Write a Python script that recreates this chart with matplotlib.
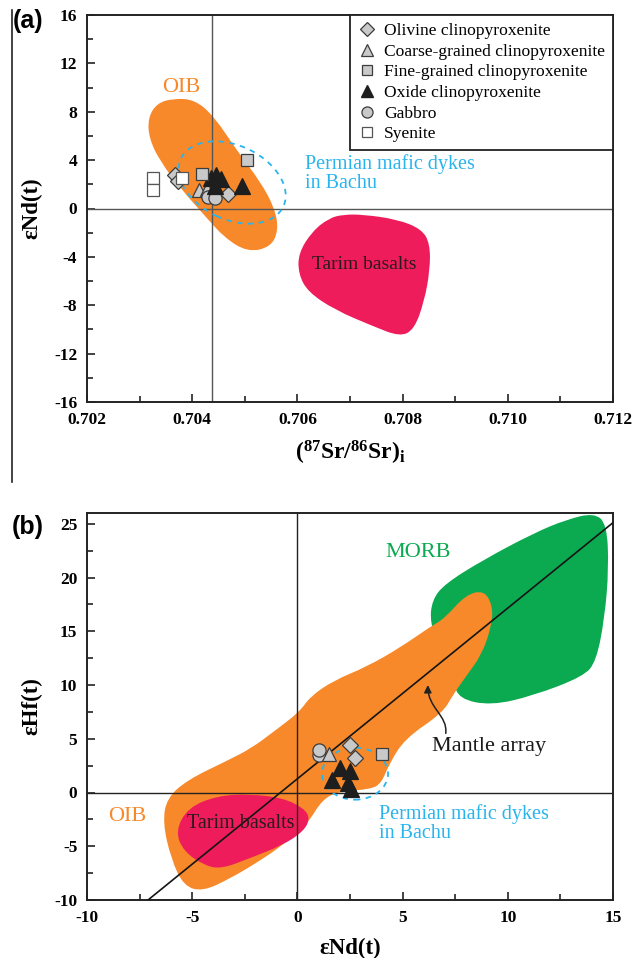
import numpy as np
import matplotlib
matplotlib.use('Agg')
import matplotlib.pyplot as plt
from matplotlib.path import Path
from matplotlib.patches import PathPatch, Ellipse, FancyArrowPatch
from matplotlib.lines import Line2D
from matplotlib.transforms import ScaledTranslation

plt.rcParams['font.family'] = ['Liberation Serif', 'DejaVu Serif']
plt.rcParams['mathtext.fontset'] = 'custom'
plt.rcParams['mathtext.rm'] = 'Liberation Serif'
plt.rcParams['mathtext.bf'] = 'Liberation Serif:bold'
plt.rcParams['axes.unicode_minus'] = False

#####
# Data - panel (a): Sr-Nd
#####
oliv_a_sr = [0.70367, 0.70373, 0.70469]
oliv_a_nd = [2.8, 2.3, 1.2]
coarse_a_sr = [0.70412, 0.70428]
coarse_a_nd = [1.55, 1.65]
fine_a_sr = [0.70418, 0.70505]
fine_a_nd = [2.87, 3.98]
oxide_a_sr = [0.70435, 0.70445, 0.70455, 0.70443, 0.70494]
oxide_a_nd = [2.55, 2.75, 2.45, 1.9, 1.9]
gabbro_a_sr = [0.70430, 0.70443]
gabbro_a_nd = [0.95, 0.9]
syen_a_sr = [0.70326, 0.70326, 0.70381]
syen_a_nd = [2.5, 1.5, 2.55]

oib_a_sr = [0.70364, 0.70405, 0.70442, 0.70488, 0.70530, 0.70557, 0.70564,
            0.70549, 0.70505, 0.70461, 0.70424, 0.70379, 0.70339, 0.70318,
            0.70316, 0.70333]
oib_a_nd = [9.1, 9.0, 7.6, 4.6, 2.2, 0.0, -1.8, -3.2, -3.6, -2.4, -0.6,
            1.6, 3.9, 5.8, 7.5, 8.7]
tarim_a_sr = [0.70687, 0.70725, 0.70790, 0.70836, 0.70852, 0.70852, 0.70841,
              0.70822, 0.70795, 0.70742, 0.70672, 0.70620, 0.70602, 0.70602,
              0.70628, 0.70660]
tarim_a_nd = [-0.5, -0.5, -0.9, -1.7, -2.9, -5.1, -7.7, -10.0, -10.6, -9.7,
              -8.4, -6.9, -5.4, -3.7, -1.9, -0.8]
sr_ref = 0.70437

#####
# Data - panel (b): Nd-Hf
#####
oliv_b_nd = [2.5, 2.74]
oliv_b_hf = [4.4, 3.2]
coarse_b_nd = [1.52]
coarse_b_hf = [3.6]
fine_b_nd = [4.0]
fine_b_hf = [3.54]
oxide_b_nd = [2.02, 2.5, 1.63, 2.42, 2.53]
oxide_b_hf = [2.24, 2.0, 1.15, 0.84, 0.37]
gabbro_b_nd = [1.04, 1.04]
gabbro_b_hf = [3.5, 3.94]

oib_b_nd = [-6.4, -6.2, -5.2, -3.4, -2.2, -1.1, 0.1, 0.6, 1.7, 3.3, 4.9, 6.3,
            7.0, 8.0, 8.9, 9.3, 9.2, 8.75, 8.05, 7.4, 6.9, 5.1, 4.35, 4.0,
            3.5, 2.0, 1.2, 0.45, -0.7, -1.9, -3.2, -4.5, -5.4, -6.0]
oib_b_hf = [-2.8, -0.5, 1.2, 2.9, 4.1, 5.7, 7.5, 8.9, 10.4, 11.7, 13.5, 15.4,
            16.2, 18.4, 18.8, 17.2, 15.3, 12.8, 10.9, 9.1, 7.4, 5.0, 2.6, 0.9,
            0.3, 0.1, -0.6, -3.0, -4.9, -6.5, -8.0, -9.2, -8.7, -6.2]
tarim_b_nd = [-5.8, -5.2, -3.8, -2.25, -0.7, 0.3, 0.6, 0.3, -0.7, -2.25,
              -3.6, -4.4, -5.4]
tarim_b_hf = [-3.6, -1.4, -0.3, -0.15, -0.5, -1.45, -2.4, -3.6, -4.9, -6.1,
              -7.1, -6.8, -5.5]
morb_b_nd = [6.3, 6.4, 7.0, 8.8, 11.2, 12.8, 14.1, 14.7, 14.8, 14.6, 14.2,
             13.6, 11.2, 9.2, 7.7, 7.4, 6.8]
morb_b_hf = [15.8, 17.9, 19.4, 21.6, 24.1, 25.4, 26.0, 25.0, 20.9, 16.2,
             12.2, 10.8, 9.0, 8.1, 8.7, 10.3, 13.0]
mantle_nd = [-7.1, 15.0]
mantle_hf = [-10.0, 25.1]

legend_labels = ['Olivine clinopyroxenite', 'Coarse-grained clinopyroxenite',
                 'Fine-grained clinopyroxenite', 'Oxide clinopyroxenite',
                 'Gabbro', 'Syenite']

ORANGE = '#F7892A'
RED = '#EE1C5A'
GREEN = '#0BAA50'
BLUE = '#29B4EE'
GRAY = '#C9C9C9'
EDGE = '#3C3C3C'


def smooth_field(ax, xs, ys, color, z=1):
    """closed smooth outline through the midpoints of the given vertices"""
    pts = np.column_stack([xs, ys])
    mids = (pts + np.roll(pts, -1, axis=0)) / 2
    verts = [mids[-1]]
    codes = [Path.MOVETO]
    for i in range(len(pts)):
        verts += [pts[i], mids[i]]
        codes += [Path.CURVE3, Path.CURVE3]
    verts.append(mids[-1])
    codes.append(Path.CLOSEPOLY)
    ax.add_patch(PathPatch(Path(verts, codes), facecolor=color,
                           edgecolor='none', zorder=z))


def style_axes(ax):
    for s in ax.spines.values():
        s.set_linewidth(1.4)
        s.set_color('#222222')
    ax.tick_params(which='both', direction='in', top=False, right=False,
                   width=1.2, pad=7, labelsize=12.5, color='#222222')
    ax.tick_params(which='major', length=6)
    ax.tick_params(which='minor', length=4)
    for lab in ax.get_xticklabels() + ax.get_yticklabels():
        lab.set_fontweight('bold')


def draw_samples(ax, groups):
    for xs, ys, mk, ms, fc, ec in groups:
        ax.plot(xs, ys, linestyle='none', marker=mk, markersize=ms,
                markerfacecolor=fc, markeredgecolor=ec, markeredgewidth=0.9,
                zorder=5)


fig = plt.figure(figsize=(6.34, 9.58), dpi=100)

#####
# Panel (a)
#####
ax1 = fig.add_axes([87 / 634, 1 - 402 / 958, 526 / 634, 387 / 958])
smooth_field(ax1, oib_a_sr, oib_a_nd, ORANGE)
smooth_field(ax1, tarim_a_sr, tarim_a_nd, RED)
ax1.axvline(sr_ref, color='#555555', lw=1.0, zorder=2)
ax1.axhline(0, color='#555555', lw=1.0, zorder=2)

# dashed dyke field, sized in inches so the tilt is not distorted
dyke_a = Ellipse((0, 0), 1.13, 0.74, angle=-25, fill=False, edgecolor=BLUE,
                 linestyle=(0, (3, 3)), lw=1.3, zorder=3,
                 transform=fig.dpi_scale_trans +
                 ScaledTranslation(0.70476, 2.15, ax1.transData))
ax1.add_patch(dyke_a)

draw_samples(ax1, [
    (oliv_a_sr, oliv_a_nd, 'D', 8, GRAY, EDGE),
    (coarse_a_sr, coarse_a_nd, '^', 10, GRAY, EDGE),
    (gabbro_a_sr, gabbro_a_nd, 'o', 9.5, GRAY, EDGE),
    (oxide_a_sr, oxide_a_nd, '^', 12, '#1E1E1E', '#1E1E1E'),
    (fine_a_sr, fine_a_nd, 's', 9, GRAY, EDGE),
    (syen_a_sr, syen_a_nd, 's', 9, 'white', '#555555'),
])

ax1.text(0.70380, 10.0, 'OIB', color=ORANGE, fontsize=16, ha='center', va='center')
ax1.text(0.70614, 2.9, 'Permian mafic dykes\nin Bachu', color=BLUE, fontsize=14.5,
         ha='left', va='center', linespacing=1.0)
ax1.text(0.70728, -4.6, 'Tarim basalts', color='#2A1A20', fontsize=14,
         ha='center', va='center')

ax1.set_xlim(0.702, 0.712)
ax1.set_ylim(-16, 16)
ax1.set_xticks(np.arange(0.702, 0.7121, 0.002))
ax1.set_xticks(np.arange(0.703, 0.7121, 0.002), minor=True)
ax1.set_xticklabels(['%.3f' % v for v in np.arange(0.702, 0.7121, 0.002)])
ax1.set_yticks(np.arange(-16, 17, 4))
ax1.set_yticks(np.arange(-14, 16, 4), minor=True)
style_axes(ax1)
ax1.set_xlabel(r'$\mathbf{(^{87}Sr/^{86}Sr)_{i}}$', fontsize=17)
ax1.xaxis.set_label_coords(0.5, -0.095)
ax1.set_ylabel('εNd(t)', fontsize=16.5, fontweight='bold')
ax1.yaxis.set_label_coords(-0.085, 0.5)

handles = [
    Line2D([], [], ls='none', marker='D', ms=7, mfc=GRAY, mec=EDGE, mew=0.9),
    Line2D([], [], ls='none', marker='^', ms=8.5, mfc=GRAY, mec=EDGE, mew=0.9),
    Line2D([], [], ls='none', marker='s', ms=7, mfc=GRAY, mec=EDGE, mew=0.9),
    Line2D([], [], ls='none', marker='^', ms=9, mfc='#1E1E1E', mec='#1E1E1E'),
    Line2D([], [], ls='none', marker='o', ms=8, mfc=GRAY, mec=EDGE, mew=0.9),
    Line2D([], [], ls='none', marker='s', ms=7, mfc='white', mec='#555555', mew=0.9),
]
leg = ax1.legend(handles, legend_labels, loc='upper right', bbox_to_anchor=(1, 1),
                 borderaxespad=0, fontsize=12.6, frameon=True, fancybox=False,
                 edgecolor='#222222', framealpha=1, labelspacing=0.25,
                 handlelength=1.0, handletextpad=0.5, borderpad=0.45)
leg.get_frame().set_linewidth(1.3)
leg.set_zorder(10)

#####
# Panel (b)
#####
ax2 = fig.add_axes([87 / 634, 1 - 900 / 958, 526 / 634, 387 / 958])
smooth_field(ax2, morb_b_nd, morb_b_hf, GREEN)
smooth_field(ax2, oib_b_nd, oib_b_hf, ORANGE, z=1.2)
smooth_field(ax2, tarim_b_nd, tarim_b_hf, RED, z=1.4)
ax2.axvline(0, color='#222222', lw=1.0, zorder=2)
ax2.axhline(0, color='#222222', lw=1.0, zorder=2)
ax2.plot(mantle_nd, mantle_hf, color='#151515', lw=1.2, zorder=3)

dyke_b = Ellipse((0, 0), 0.66, 0.52, angle=0, fill=False, edgecolor=BLUE,
                 linestyle=(0, (3, 3)), lw=1.3, zorder=3,
                 transform=fig.dpi_scale_trans +
                 ScaledTranslation(2.74, 1.75, ax2.transData))
ax2.add_patch(dyke_b)

draw_samples(ax2, [
    (oxide_b_nd, oxide_b_hf, '^', 12, '#1E1E1E', '#1E1E1E'),
    (gabbro_b_nd, gabbro_b_hf, 'o', 9.5, GRAY, EDGE),
    (coarse_b_nd, coarse_b_hf, '^', 10, GRAY, EDGE),
    (oliv_b_nd, oliv_b_hf, 'D', 8, GRAY, EDGE),
    (fine_b_nd, fine_b_hf, 's', 9, GRAY, EDGE),
])

arrow_path = Path([(7.05, 5.5), (7.15, 7.2), (6.2, 7.8), (6.2, 10.0)],
                  [Path.MOVETO, Path.CURVE4, Path.CURVE4, Path.CURVE4])
ax2.add_patch(FancyArrowPatch(path=arrow_path, arrowstyle='-|>', mutation_scale=11,
                              color='#222222', lw=1.1, zorder=4))

ax2.text(5.75, 22.3, 'MORB', color=GREEN, fontsize=16, ha='center', va='center')
ax2.text(-8.1, -2.2, 'OIB', color=ORANGE, fontsize=16, ha='center', va='center')
ax2.text(-2.7, -2.9, 'Tarim basalts', color='#2A1A20', fontsize=14.5,
         ha='center', va='center', zorder=4)
ax2.text(6.4, 4.3, 'Mantle array', color='#1A1A1A', fontsize=16,
         ha='left', va='center')
ax2.text(3.9, -2.9, 'Permian mafic dykes\nin Bachu', color=BLUE, fontsize=14.5,
         ha='left', va='center', linespacing=1.0)

ax2.set_xlim(-10, 15)
ax2.set_ylim(-10, 26)
ax2.set_xticks(np.arange(-10, 16, 5))
ax2.set_xticks(np.arange(-7.5, 15, 5), minor=True)
ax2.set_yticks(np.arange(-10, 26, 5))
ax2.set_yticks(np.arange(-7.5, 26, 5), minor=True)
style_axes(ax2)
ax2.set_xlabel('εNd(t)', fontsize=16.5, fontweight='bold')
ax2.xaxis.set_label_coords(0.5, -0.098)
ax2.set_ylabel('εHf(t)', fontsize=16.5, fontweight='bold')
ax2.yaxis.set_label_coords(-0.085, 0.5)

# panel letters and the left frame line of the original layout
fig.text(28 / 634, 1 - 21 / 958, '(a)', fontsize=18, fontweight='bold',
         family='Liberation Sans', ha='center', va='center')
fig.text(28 / 634, 1 - 527 / 958, '(b)', fontsize=18, fontweight='bold',
         family='Liberation Sans', ha='center', va='center')
fig.add_artist(Line2D([12 / 634, 12 / 634], [1 - 10 / 958, 1 - 482 / 958],
                      color='#222222', lw=1.2))

fig.savefig('out.png', dpi=100)
